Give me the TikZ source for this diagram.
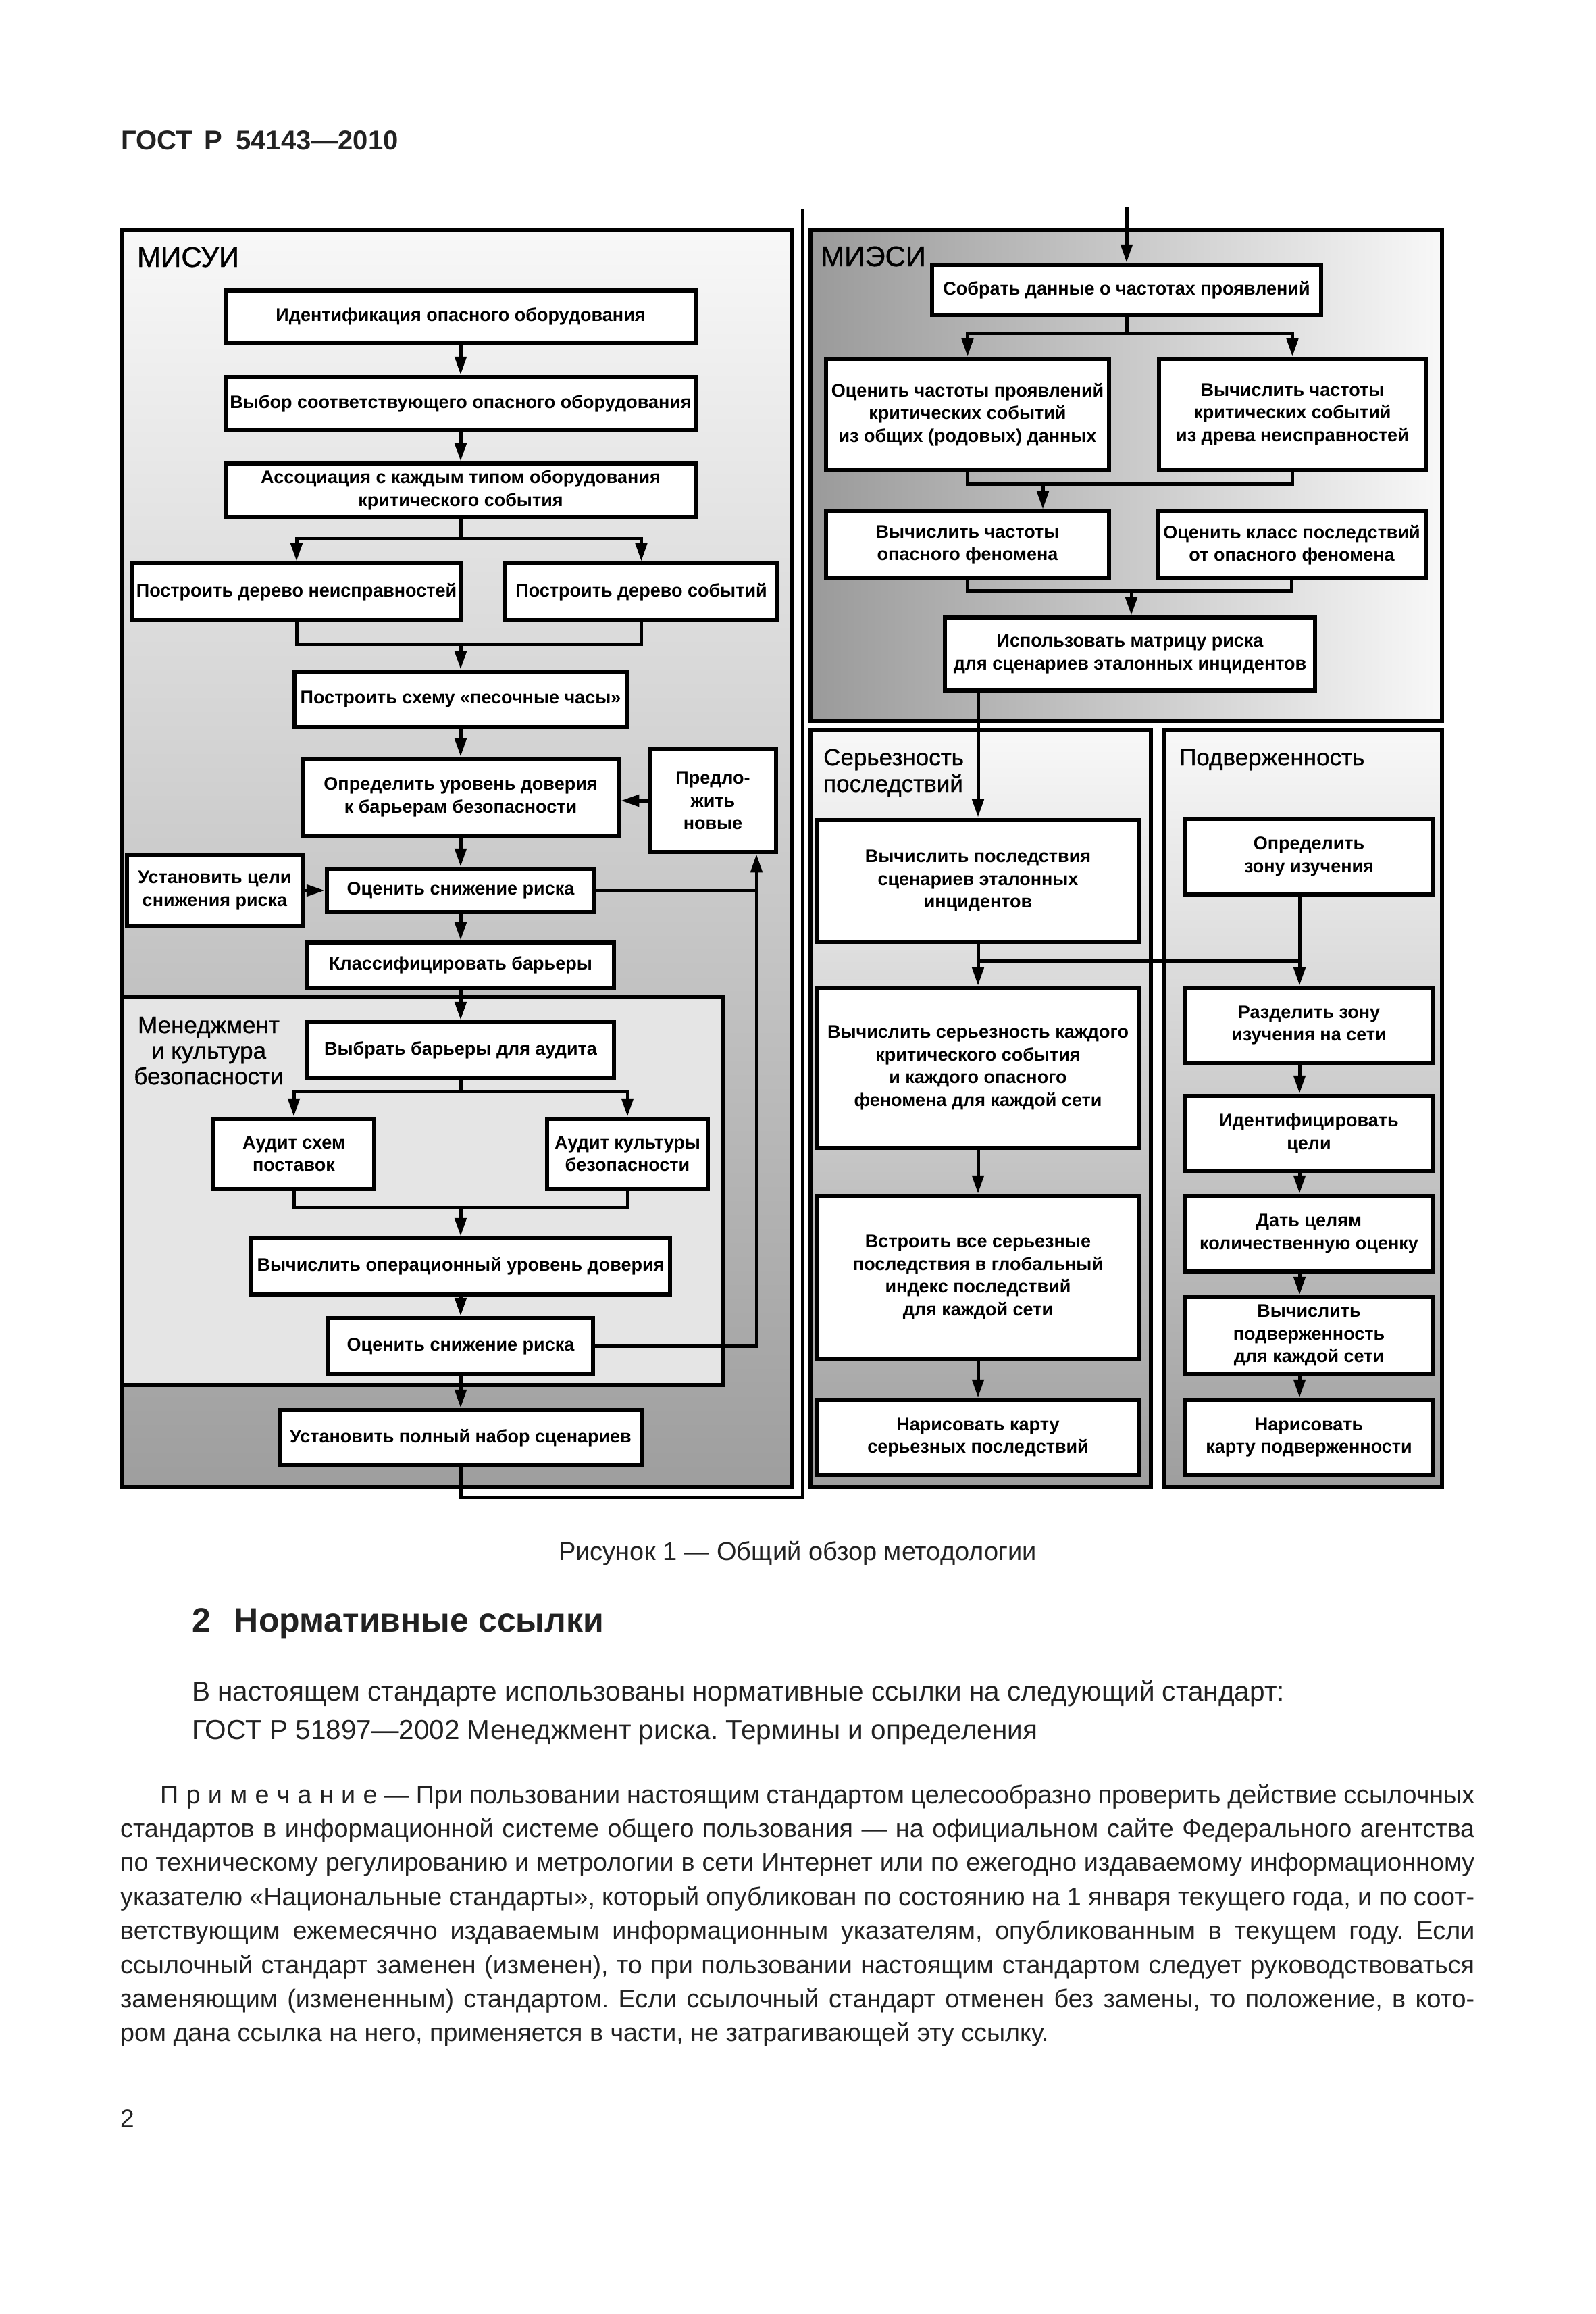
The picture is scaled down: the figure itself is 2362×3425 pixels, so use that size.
\documentclass[tikz,border=0pt]{standalone}
\usepackage{fontspec}
\setmainfont{Liberation Sans}
\newfontfamily\ttlfont[FakeBold=0.8]{Liberation Sans}
\usetikzlibrary{arrows.meta}
\definecolor{txt}{HTML}{222222}
\definecolor{pTop}{HTML}{F8F8F8}
\definecolor{pBot}{HTML}{9E9E9E}
\definecolor{mgmt}{HTML}{E5E5E5}
\definecolor{mLeft}{HTML}{9A9A9A}
\definecolor{mRight}{HTML}{F8F8F8}
\tikzset{
 flow/.style={draw=black, line width=6.5pt, fill=white, inner sep=0pt, align=center,
   font=\bfseries\fontsize{27}{33.5}\selectfont},
 panel/.style={draw=black, line width=6.5pt},
 conn/.style={draw=black, line width=5pt},
 arr/.style={conn, -{Triangle[length=27pt,width=17pt]}},
 ttl/.style={inner sep=0pt, anchor=base west, font=\ttlfont\fontsize{42}{42}\selectfont},
 sttl/.style={inner sep=0pt, anchor=base west, font=\ttlfont\fontsize{35}{38}\selectfont},
 body/.style={inner sep=0pt, anchor=base west, text=txt},
 notefont/.style={font=\fontsize{37.7}{37.7}\selectfont}
}
\newcommand\flowbox[6]{\node[flow, minimum width={(#4-#2)*1pt}, minimum height={(#5-#3)*1pt}] (#1) at ({(#2+#4)/2},{(#3+#5)/2}) {#6};}
\newcommand\spc{\kern0.3em}
\frenchspacing
\begin{document}
\begin{tikzpicture}[x=1pt,y=-1pt]
\useasboundingbox[fill=white] (0,0) rectangle (2362,3425);
% panels
\path[panel, top color=pTop, bottom color=pBot] (180,340) rectangle (1173,2201);
\path[panel, fill=mgmt] (180,1475) rectangle (1071,2050);
\path[panel, left color=mLeft, right color=mRight] (1200,340) rectangle (2135,1067);
\path[panel, top color=pTop, bottom color=pBot] (1200,1081) rectangle (1704,2201);
\path[panel, top color=pTop, bottom color=pBot] (1724,1081) rectangle (2135,2201);
% titles
\node[ttl] (tmisui) at (203,395) {МИСУИ};
\node[ttl] (tmiesi) at (1215,394) {МИЭСИ};
\node[sttl, anchor=base] (tm1) at (309,1529) {Менеджмент};
\node[sttl, anchor=base] (tm2) at (309,1567) {и культура};
\node[sttl, anchor=base] (tm3) at (309,1605) {безопасности};
\node[sttl] (ts1) at (1219,1133) {Серьезность};
\node[sttl] (ts2) at (1219,1172) {последствий};
\node[sttl] (tp1) at (1746,1133) {Подверженность};
% MISUI boxes
\flowbox{n1}{334}{430}{1030}{507}{Идентификация опасного оборудования}
\flowbox{n2}{334}{558}{1030}{636}{Выбор соответствующего опасного оборудования}
\flowbox{n3}{334}{686}{1030}{765}{Ассоциация с каждым типом оборудования\\критического события}
\flowbox{n4}{195}{834}{683}{918}{Построить дерево неисправностей}
\flowbox{n5}{748}{834}{1151}{918}{Построить дерево событий}
\flowbox{n6}{436}{994}{928}{1076}{Построить схему «песочные часы»}
\flowbox{n7}{448}{1123}{916}{1237}{Определить уровень доверия\\к барьерам безопасности}
\flowbox{n8}{962}{1109}{1149}{1261}{Предло-\\жить\\новые}
\flowbox{n9}{188}{1265}{448}{1371}{Установить цели\\снижения риска}
\flowbox{n10}{484}{1286}{880}{1350}{Оценить снижение риска}
\flowbox{n11}{455}{1395}{909}{1462}{Классифицировать барьеры}
\flowbox{n12}{455}{1513}{909}{1596}{Выбрать барьеры для аудита}
\flowbox{n13}{316}{1656}{554}{1760}{Аудит схем\\поставок}
\flowbox{n14}{810}{1656}{1048}{1760}{Аудит культуры\\безопасности}
\flowbox{n15}{372}{1833}{992}{1916}{Вычислить операционный уровень доверия}
\flowbox{n16}{486}{1951}{878}{2034}{Оценить снижение риска}
\flowbox{n17}{414}{2087}{950}{2169}{Установить полный набор сценариев}
% right boxes
\flowbox{na}{1380}{392}{1956}{466}{Собрать данные о частотах проявлений}
\flowbox{nb}{1223}{531}{1642}{696}{Оценить частоты проявлений\\критических событий\\из общих (родовых) данных}
\flowbox{nc}{1716}{531}{2111}{696}{Вычислить частоты\\критических событий\\из древа неисправностей}
\flowbox{nd}{1223}{757}{1642}{856}{Вычислить частоты\\опасного феномена}
\flowbox{ne}{1714}{757}{2111}{856}{Оценить класс последствий\\от опасного феномена}
\flowbox{nf}{1399}{914}{1947}{1022}{Использовать матрицу риска\\для сценариев эталонных инцидентов}
\flowbox{ng}{1210}{1213}{1686}{1394}{Вычислить последствия\\сценариев эталонных\\инцидентов}
\flowbox{nh}{1210}{1462}{1686}{1699}{Вычислить серьезность каждого\\критического события\\и каждого опасного\\феномена для каждой сети}
\flowbox{ni}{1210}{1770}{1686}{2011}{Встроить все серьезные\\последствия в глобальный\\индекс последствий\\для каждой сети}
\flowbox{nj}{1210}{2072}{1686}{2183}{Нарисовать карту\\серьезных последствий}
\flowbox{nk}{1755}{1212}{2121}{1324}{Определить\\зону изучения}
\flowbox{nl}{1755}{1462}{2121}{1573}{Разделить зону\\изучения на сети}
\flowbox{nm}{1755}{1622}{2121}{1733}{Идентифицировать\\цели}
\flowbox{nn}{1755}{1770}{2121}{1882}{Дать целям\\количественную оценку}
\flowbox{no}{1755}{1920}{2121}{2033}{Вычислить\\подверженность\\для каждой сети}
\flowbox{np}{1755}{2072}{2121}{2183}{Нарисовать\\карту подверженности}
% MISUI connectors
\draw[arr] (n1) -- (n2);
\draw[arr] (n2) -- (n3);
\coordinate (s1) at (682,797);
\draw[conn] (n3) -- (s1);
\draw[arr] (s1) -| (n4);
\draw[arr] (s1) -| (n5);
\coordinate (s2) at (682,953);
\draw[conn] (n4) |- (s2) -| (n5);
\draw[arr] (s2) -- (n6);
\draw[arr] (n6) -- (n7);
\draw[arr] (n7) -- (n10);
\draw[arr] (n8.west) -- (n8.west -| n7.east);
\draw[arr] (n9) -- (n10);
\draw[arr] (n10) -- (n11);
\draw[arr] (n11) -- (n12);
\coordinate (s3) at (682,1615);
\draw[conn] (n12) -- (s3);
\draw[arr] (s3) -| (n13);
\draw[arr] (s3) -| (n14);
\coordinate (s4) at (682,1787);
\draw[conn] (n13) |- (s4) -| (n14);
\draw[arr] (s4) -- (n15);
\draw[arr] (n15) -- (n16);
\draw[arr] (n16) -- (n17);
\coordinate (fb1) at (1120,1318);
\coordinate (fb2) at (1120,1992.5);
\draw[conn] (n10) -- (fb1);
\draw[arr] (n16) -- (fb2) -- (fb2 |- n8.south);
\coordinate (lp1) at (682,2216);
\coordinate (lp2) at (1188,2216);
\coordinate (lp3) at (1188,310);
\draw[conn] (n17) -- (lp1) -- (lp2) -- (lp3);
\coordinate (tp) at (1668,307);
\draw[arr] (tp) -- (na);
% MIESI connectors
\coordinate (r1) at (1668,493);
\draw[conn] (na) -- (r1);
\draw[arr] (r1) -| (nb);
\draw[arr] (r1) -| (nc);
\coordinate (r2) at (1544,716);
\draw[conn] (nb) |- (r2) -| (nc);
\draw[arr] (r2) -- (r2 |- nd.north);
\coordinate (r3) at (1675,874);
\draw[conn] (nd) |- (r3) -| (ne);
\draw[arr] (r3) -- (r3 |- nf.north);
\draw[arr] (nf.south -| ng) -- (ng);
% severity / exposure connectors
\coordinate (q1) at (1924,1422);
\draw[arr] (ng) -- (nh);
\draw[conn] (ng.south |- q1) -- (q1);
\draw[arr] (nk.south -| q1) -- (nl.north -| q1);
\draw[arr] (nh) -- (ni);
\draw[arr] (ni) -- (nj);
\draw[arr] (nl.south -| q1) -- (nm.north -| q1);
\draw[arr] (nm.south -| q1) -- (nn.north -| q1);
\draw[arr] (nn.south -| q1) -- (no.north -| q1);
\draw[arr] (no.south -| q1) -- (np.north -| q1);
% page text
\node[body, font=\bfseries\fontsize{40}{40}\selectfont] (hdr) at (179,222) {ГОСТ\hspace{0.45em}Р\hspace{0.5em}54143—2010};
\node[body, anchor=base, font=\fontsize{38}{38}\selectfont] (cap) at (1181,2309) {Рисунок 1 — Общий обзор методологии};
\node[body, font=\bfseries\fontsize{50}{50}\selectfont] (sec) at (284,2415) {2\hspace{0.7em}Нормативные ссылки};
\node[body, font=\fontsize{40.5}{40.5}\selectfont] (p1) at (284,2517) {В настоящем стандарте использованы нормативные ссылки на следующий стандарт:};
\node[body, font=\fontsize{40.5}{40.5}\selectfont] (p2) at (284,2574) {ГОСТ Р 51897—2002 Менеджмент риска. Термины и определения};
\node[body, notefont] (l1) at (237,2669) {\makebox[1946pt][s]{П\spc р\spc и\spc м\spc е\spc ч\spc а\spc н\spc и\spc е — При пользовании настоящим стандартом целесообразно проверить действие ссылочных}};
\node[body, notefont] (l2) at (178,2719.4) {\makebox[2005pt][s]{стандартов в информационной системе общего пользования — на официальном сайте Федерального агентства}};
\node[body, notefont] (l3) at (178,2769.8) {\makebox[2005pt][s]{по техническому регулированию и метрологии в сети Интернет или по ежегодно издаваемому информационному}};
\node[body, notefont] (l4) at (178,2820.2) {\makebox[2005pt][s]{указателю «Национальные стандарты», который опубликован по состоянию на 1 января текущего года, и по соот-}};
\node[body, notefont] (l5) at (178,2870.6) {\makebox[2005pt][s]{ветствующим ежемесячно издаваемым информационным указателям, опубликованным в текущем году. Если}};
\node[body, notefont] (l6) at (178,2921) {\makebox[2005pt][s]{ссылочный стандарт заменен (изменен), то при пользовании настоящим стандартом следует руководствоваться}};
\node[body, notefont] (l7) at (178,2971.4) {\makebox[2005pt][s]{заменяющим (измененным) стандартом. Если ссылочный стандарт отменен без замены, то положение, в кото-}};
\node[body, notefont] (l8) at (178,3021.8) {ром дана ссылка на него, применяется в части, не затрагивающей эту ссылку.};
\node[body, font=\fontsize{37}{37}\selectfont] (pn) at (178,3148) {2};
\end{tikzpicture}
\end{document}
